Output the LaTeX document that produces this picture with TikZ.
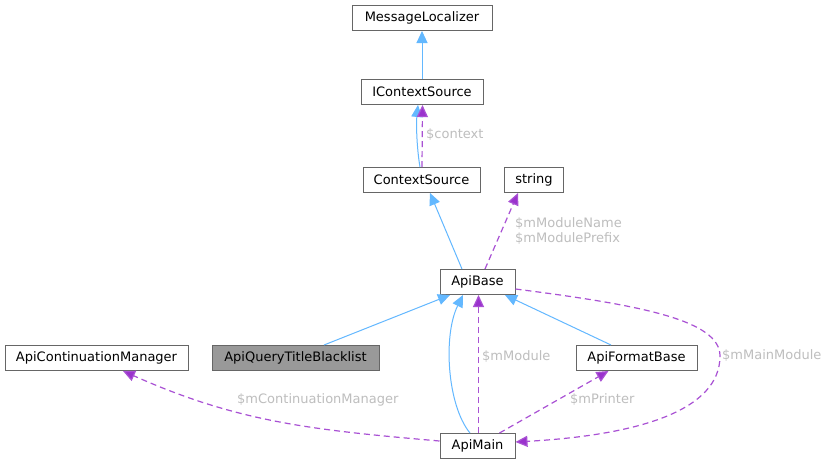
\documentclass[tikz,border=0pt]{standalone}
\usepackage{fontspec}
\setmainfont{DejaVu Sans}
\usetikzlibrary{arrows.meta}
\definecolor{inhblue}{HTML}{63B8FF}
\definecolor{usepurple}{HTML}{9A32CD}
\definecolor{lblgray}{HTML}{BEBEBE}
\definecolor{boxborder}{HTML}{666666}
\definecolor{boxhi}{HTML}{999999}
\tikzset{
  cls/.style={draw=boxborder, line width=1pt, fill=white, inner sep=0pt, minimum height=25pt, font=\fontsize{13}{15}\selectfont},
  inh/.style={draw=inhblue, line width=1pt, -{Triangle[length=12pt,width=11pt,fill=inhblue]}},
  usg/.style={draw=usepurple!85, line width=1.2pt, dash pattern=on 6pt off 4pt, -{Triangle[length=12pt,width=11pt,fill=usepurple]}},
  lbl/.style={text=lblgray, inner sep=0pt, anchor=west, font=\fontsize{13}{15}\selectfont}
}
\begin{document}
\begin{tikzpicture}[x=1pt,y=-1pt]
\useasboundingbox[fill=white] (0,0) rectangle (830,464);
\node[cls, minimum width=140pt] (ml) at (422,18) {MessageLocalizer};
\node[cls, minimum width=122pt] (ics) at (422,92) {IContextSource};
\node[cls, minimum width=117pt] (cs) at (421.5,180) {ContextSource};
\node[cls, minimum width=59pt] (str) at (534,180) {string};
\node[cls, minimum width=75pt] (ab) at (477.5,282) {ApiBase};
\node[cls, minimum width=183pt] (acm) at (96.5,358) {ApiContinuationManager};
\node[cls, minimum width=167pt, fill=boxhi] (aqtb) at (295.5,358) {ApiQueryTitleBlacklist};
\node[cls, minimum width=121pt] (afb) at (636.5,358) {ApiFormatBase};
\node[cls, minimum width=75pt] (am) at (477.5,446) {ApiMain};

% inheritance
\draw[inh] (ics.north) -- (ml.south);
\draw[inh] ([xshift=-1.5pt]cs.north) .. controls (417,150) and (416,125) .. ([xshift=-4pt]ics.south);
\draw[inh] ([xshift=-15.5pt]ab.north) -- ([xshift=8.5pt]cs.south);
\draw[inh] ([xshift=28.5pt]aqtb.north) -- ([xshift=-27.5pt]ab.south);
\draw[inh] ([xshift=-25.5pt]afb.north) -- ([xshift=27.5pt]ab.south);
\draw[inh] ([xshift=-7.5pt]am.north) .. controls (447,405) and (443,335) .. ([xshift=-14.5pt]ab.south);

% usage
\draw[usg] ([xshift=0.5pt]cs.north) -- ([xshift=0.5pt]ics.south);
\node[lbl] (lctx) at (426,135) {\$context};
\draw[usg] ([xshift=7.5pt]ab.north) -- ([xshift=-16pt]str.south);
\node[lbl, align=left] (lmod) at (515,231) {\$mModuleName\\\$mModulePrefix};
\draw[usg] ([xshift=1pt]am.north) -- ([xshift=1pt]ab.south);
\node[lbl] (lmodule) at (482,357) {\$mModule};
\draw[usg] ([xshift=22pt]am.north) -- ([xshift=-28pt]afb.south);
\node[lbl] (lprn) at (570,400) {\$mPrinter};
\draw[usg] ([yshift=5pt]am.west) to[out=175,in=-24] ([xshift=26.5pt]acm.south);
\node[lbl] (lcm) at (237,400) {\$mContinuationManager};
\coordinate (mmturn) at (720,356);
\draw[usg] ([yshift=-7pt]ab.east) .. controls (640,305) and (720,320) .. (mmturn) .. controls (720,410) and (640,435) .. ([yshift=4pt]am.east);
\node[lbl] (lmm) at (722,356) {\$mMainModule};
\end{tikzpicture}
\end{document}
